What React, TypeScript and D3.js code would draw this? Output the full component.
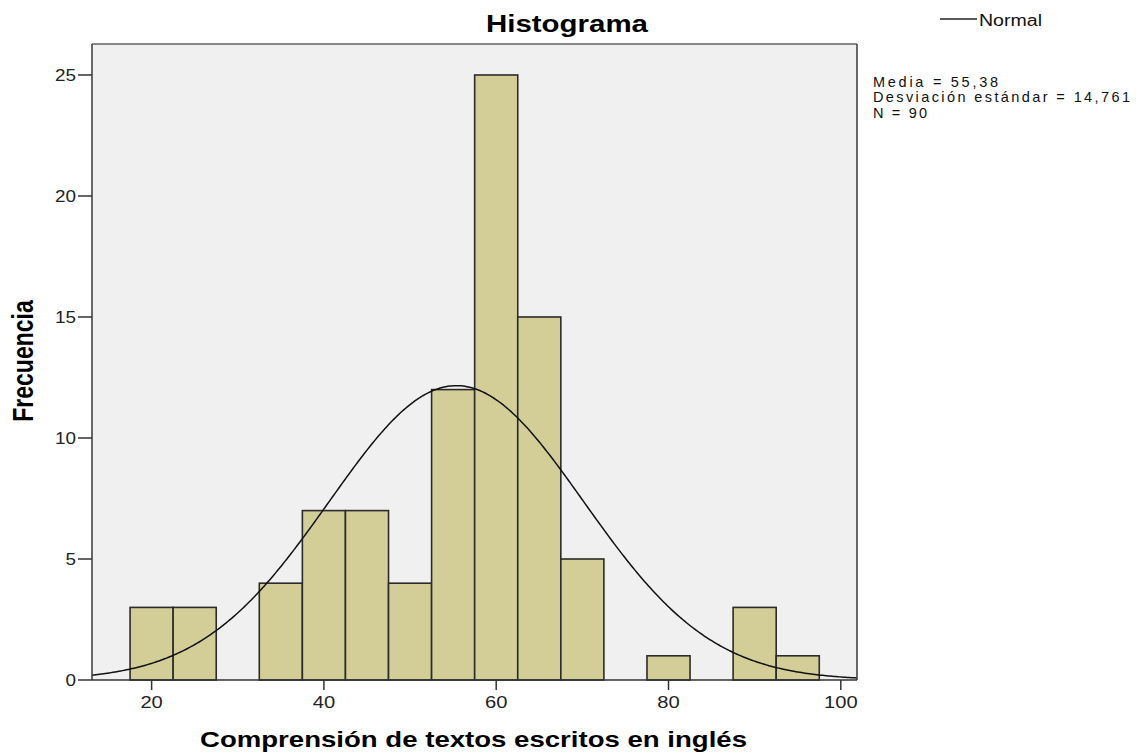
import React from "react";
import * as d3 from "d3";

const binCenters = [20, 25, 30, 35, 40, 45, 50, 55, 60, 65, 70, 75, 80, 85, 90, 95];
const binCounts = [3, 3, 0, 4, 7, 7, 4, 12, 25, 15, 5, 0, 1, 0, 3, 1];
const binWidth = 5;
const xTicks = [20, 40, 60, 80, 100];
const yTicks = [0, 5, 10, 15, 20, 25];
const mean = 55.38;
const sd = 14.761;
const n = 90;
const statLines = ["Media = 55,38", "Desviación estándar = 14,761", "N = 90"];
const statWidths = [125, 257, 54];

const W = 1139;
const H = 755;
const left = 92, right = 857, top = 44, bottom = 680;
const xMin = 13.08, xMax = 101.88;
const yMax = 26.28;

export default function App() {
  const x = d3.scaleLinear().domain([xMin, xMax]).range([left, right]);
  const y = d3.scaleLinear().domain([0, yMax]).range([bottom, top]);

  const pdf = (v: number) =>
    (n * binWidth) / (sd * Math.sqrt(2 * Math.PI)) * Math.exp(-0.5 * ((v - mean) / sd) ** 2);
  const pts = d3.range(0, 401).map((i) => xMin + ((xMax - xMin) * i) / 400);
  const line = d3.line<number>().x((v) => x(v)).y((v) => y(pdf(v))).curve(d3.curveLinear);

  const font = "'Liberation Sans', Arial, sans-serif";

  return (
    <svg width={W} height={H} style={{ position: "absolute", left: 0, top: 0, background: "#fff" }}>
      <rect x={left} y={top} width={right - left} height={bottom - top} fill="#f0f0f0" />
      {binCenters.map((c, i) =>
        binCounts[i] > 0 ? (
          <rect
            key={c}
            x={x(c - binWidth / 2)}
            y={y(binCounts[i])}
            width={x(c + binWidth / 2) - x(c - binWidth / 2)}
            height={y(0) - y(binCounts[i])}
            fill="#d3ce97"
            stroke="#2b2b2b"
            strokeWidth={1.6}
          />
        ) : null
      )}
      <path d={line(pts) || ""} fill="none" stroke="#111" strokeWidth={1.5} />
      {/* frame */}
      <line x1={left} x2={right} y1={top} y2={top} stroke="#888" strokeWidth={2} />
      <line x1={left} x2={left} y1={top} y2={bottom} stroke="#444" strokeWidth={1.6} />
      <line x1={right} x2={right} y1={top} y2={bottom} stroke="#444" strokeWidth={1.6} />
      <line x1={left} x2={right} y1={bottom} y2={bottom} stroke="#333" strokeWidth={1.6} />

      {/* y ticks */}
      {yTicks.map((t) => (
        <g key={t}>
          <line x1={78} x2={left} y1={y(t)} y2={y(t)} stroke="#333" strokeWidth={1.5} />
          <text
            x={76}
            y={y(t) + 6}
            textAnchor="end"
            fontFamily={font}
            fontSize={16}
            fill="#222"
            textLength={String(t).length * 10.5}
            lengthAdjust="spacingAndGlyphs"
          >
            {t}
          </text>
        </g>
      ))}
      {/* x ticks */}
      {xTicks.map((t) => (
        <g key={t}>
          <line x1={x(t)} x2={x(t)} y1={bottom} y2={bottom + 10} stroke="#333" strokeWidth={1.5} />
          <text
            x={x(t) - (String(t).length * 11.2) / 2}
            y={708}
            fontFamily={font}
            fontSize={16}
            fill="#222"
            textLength={String(t).length * 11.2}
            lengthAdjust="spacingAndGlyphs"
          >
            {t}
          </text>
        </g>
      ))}

      {/* title */}
      <text x={486} y={32} fontFamily={font} fontWeight="bold" fontSize={24} fill="#000"
        textLength={162} lengthAdjust="spacingAndGlyphs">Histograma</text>

      {/* x label */}
      <text x={200} y={747} fontFamily={font} fontWeight="bold" fontSize={22} fill="#000"
        textLength={547} lengthAdjust="spacingAndGlyphs">Comprensión de textos escritos en inglés</text>

      {/* y label */}
      <g transform="translate(33,361) scale(1.25,1) rotate(-90)">
        <text x={0} y={0} textAnchor="middle" fontFamily={font} fontWeight="bold" fontSize={23} fill="#000">
          Frecuencia
        </text>
      </g>

      {/* legend */}
      <line x1={940} x2={977} y1={19} y2={19} stroke="#222" strokeWidth={1.5} />
      <text x={979} y={26} fontFamily={font} fontSize={16} fill="#111"
        textLength={63} lengthAdjust="spacingAndGlyphs">Normal</text>

      {/* stats */}
      {statLines.map((s, i) => (
        <text key={s} x={873} y={87 + i * 15.3} fontFamily={font} fontSize={14.5} fill="#111"
          textLength={statWidths[i]} lengthAdjust="spacing">{s}</text>
      ))}
    </svg>
  );
}
